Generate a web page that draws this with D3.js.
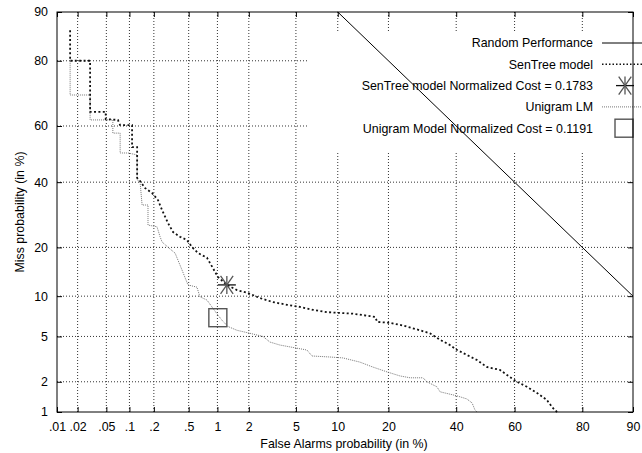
<!DOCTYPE html>
<html>
<head>
<meta charset="utf-8">
<script src="https://cdn.jsdelivr.net/npm/d3@7"></script>
<style>
	body { margin: 0; background: #fff; }
	text { font-family: "Liberation Sans", Arial, sans-serif; font-size: 12.4px; fill: #000; }
</style>
</head>
<body>
<script>
//tick values and labels (in %)
var faTicks = [0.01, 0.02, 0.05, 0.1, 0.2, 0.5, 1, 2, 5, 10, 20, 40, 60, 80, 90];
var faTickLabels = [".01", ".02", ".05", ".1", ".2", ".5", "1", "2", "5", "10", "20", "40", "60", "80", "90"];
var missTicks = [1, 2, 5, 10, 20, 40, 60, 80, 90];
var missTickLabels = ["1", "2", "5", "10", "20", "40", "60", "80", "90"];

//SenTree model DET curve (false alarm %, miss %)
var senTreeFa = [0.0156, 0.0156, 0.030, 0.030, 0.049, 0.049, 0.071, 0.076, 0.108, 0.108, 0.125, 0.125, 0.136, 0.156, 0.190, 0.224, 0.250, 0.293, 0.335, 0.400, 0.479, 0.543, 0.630, 0.782, 0.900, 1.01, 1.24, 1.55, 1.97, 2.52, 3.25, 4.25, 5.37, 6.73, 8.45, 10.3, 12.5, 15.8, 16.9, 17.4, 20.4, 23.7, 28.5, 31.5, 34.7, 37.9, 40.3, 43.6, 47.1, 50.5, 55.0, 58.4, 60.8, 64.1, 67.3, 70.3, 72.1, 73.3];
var senTreeMiss = [86.8, 80, 80, 64.8, 64.8, 62.4, 62.1, 60.3, 60.3, 52.5, 52.5, 41.5, 40.4, 38.0, 36.3, 33.9, 30.7, 26.7, 24.1, 22.8, 21.9, 20.1, 18.6, 17.5, 15.2, 13.4, 11.9, 11.0, 10.5, 9.7, 9.1, 8.7, 8.4, 8.0, 7.7, 7.6, 7.5, 7.2, 7.1, 6.5, 6.4, 6.1, 5.6, 5.3, 4.7, 4.25, 3.86, 3.5, 3.16, 2.74, 2.58, 2.22, 2.0, 1.79, 1.56, 1.33, 1.10, 1.0];

//Unigram LM DET curve
var unigramFa = [0.0156, 0.0156, 0.030, 0.030, 0.061, 0.061, 0.076, 0.076, 0.096, 0.125, 0.125, 0.136, 0.144, 0.170, 0.170, 0.218, 0.237, 0.250, 0.309, 0.353, 0.422, 0.491, 0.614, 0.660, 0.782, 0.880, 0.988, 1.11, 1.27, 1.55, 2.05, 2.67, 3.07, 3.72, 5.09, 6.06, 6.61, 8.86, 10.8, 13.8, 16.4, 19.7, 22.9, 25.7, 29.4, 30.6, 33.7, 34.7, 40.3, 43.6, 45.4, 46.4, 47.1];
var unigramMiss = [80, 70.3, 70.3, 62.1, 62.1, 57.5, 57.5, 50.4, 50.4, 49.7, 40.8, 40.1, 32.3, 32.3, 26.1, 25.6, 22.8, 21.4, 19.6, 18.6, 14.8, 11.9, 11.5, 9.9, 9.4, 8.4, 7.5, 6.7, 6.0, 5.6, 5.3, 5.0, 4.5, 4.25, 4.0, 3.86, 3.43, 3.36, 3.30, 3.03, 2.74, 2.47, 2.27, 2.18, 2.18, 2.0, 1.79, 1.60, 1.46, 1.36, 1.24, 1.05, 1.0];

//random performance line and minimum cost points
var randomFa = [10, 90];
var randomMiss = [90, 10];
var senTreeCost = [1.24, 11.9];
var unigramCost = [1.01, 7.0];

var legendLabels = ["Random Performance", "SenTree model", "SenTree model Normalized Cost = 0.1783", "Unigram LM", "Unigram Model Normalized Cost = 0.1191"];

window.onload = setChart();

//inverse of the standard normal cdf (Acklam approximation)
function probit(p){
	var a = [-3.969683028665376e+01, 2.209460984245205e+02, -2.759285104469687e+02, 1.383577518672690e+02, -3.066479806614716e+01, 2.506628277459239e+00];
	var b = [-5.447609879822406e+01, 1.615858368580409e+02, -1.556989798598866e+02, 6.680131188771972e+01, -1.328068155288572e+01];
	var c = [-7.784894002430293e-03, -3.223964580411365e-01, -2.400758277161838e+00, -2.549732539343734e+00, 4.374664141464968e+00, 2.938163982698783e+00];
	var d = [7.784695709041462e-03, 3.224671290700398e-01, 2.445134137142996e+00, 3.754408661907416e+00];
	var q, r;
	if (p < 0.02425){
		q = Math.sqrt(-2 * Math.log(p));
		return (((((c[0]*q+c[1])*q+c[2])*q+c[3])*q+c[4])*q+c[5]) / ((((d[0]*q+d[1])*q+d[2])*q+d[3])*q+1);
	}
	if (p <= 1 - 0.02425){
		q = p - 0.5; r = q*q;
		return (((((a[0]*r+a[1])*r+a[2])*r+a[3])*r+a[4])*r+a[5])*q / (((((b[0]*r+b[1])*r+b[2])*r+b[3])*r+b[4])*r+1);
	}
	q = Math.sqrt(-2 * Math.log(1 - p));
	return -(((((c[0]*q+c[1])*q+c[2])*q+c[3])*q+c[4])*q+c[5]) / ((((d[0]*q+d[1])*q+d[2])*q+d[3])*q+1);
};

function setChart(){
	var width = 642, height = 453;
	var left = 57, right = 633, top = 12, bottom = 412;

	var svg = d3.select("body")
		.append("svg")
		.attr("width", width)
		.attr("height", height);

	//normal deviate scales, values are given in %
	var xs = d3.scaleLinear()
		.domain([probit(faTicks[0] / 100), probit(faTicks[faTicks.length - 1] / 100)])
		.range([left, right]);
	var ys = d3.scaleLinear()
		.domain([probit(missTicks[0] / 100), probit(missTicks[missTicks.length - 1] / 100)])
		.range([bottom, top]);
	var x = function(v){ return xs(probit(v / 100)); };
	var y = function(v){ return ys(probit(v / 100)); };

	//grid
	svg.selectAll(".vgrid")
		.data(faTicks.slice(1, -1))
		.enter()
		.append("line")
		.attr("x1", x).attr("x2", x)
		.attr("y1", top).attr("y2", bottom)
		.attr("stroke", "#333")
		.attr("stroke-dasharray", "1,2");
	svg.selectAll(".hgrid")
		.data(missTicks.slice(1, -1))
		.enter()
		.append("line")
		.attr("y1", y).attr("y2", y)
		.attr("x1", left).attr("x2", right)
		.attr("stroke", "#333")
		.attr("stroke-dasharray", "1,2");

	//axes, ticks point inward
	var xAxis = d3.axisBottom(xs)
		.tickValues(faTicks.map(function(v){ return probit(v / 100); }))
		.tickFormat(function(d, i){ return faTickLabels[i]; })
		.tickSizeInner(-5).tickSizeOuter(0).tickPadding(10);
	var xAxisTop = d3.axisTop(xs)
		.tickValues(faTicks.map(function(v){ return probit(v / 100); }))
		.tickFormat("")
		.tickSizeInner(-5).tickSizeOuter(0);
	var yAxis = d3.axisLeft(ys)
		.tickValues(missTicks.map(function(v){ return probit(v / 100); }))
		.tickFormat(function(d, i){ return missTickLabels[i]; })
		.tickSizeInner(-5).tickSizeOuter(0).tickPadding(9);
	var yAxisRight = d3.axisRight(ys)
		.tickValues(missTicks.map(function(v){ return probit(v / 100); }))
		.tickFormat("")
		.tickSizeInner(-5).tickSizeOuter(0);

	[[xAxis, "translate(0," + bottom + ")"], [xAxisTop, "translate(0," + top + ")"],
	 [yAxis, "translate(" + left + ",0)"], [yAxisRight, "translate(" + right + ",0)"]].forEach(function(a){
		var g = svg.append("g").attr("transform", a[1]).call(a[0]);
		g.select(".domain").remove();
		g.selectAll("line").attr("stroke", "#000");
		g.selectAll("text").attr("font-family", null).attr("font-size", null).attr("fill", "#000");
	});

	//curves
	var line = d3.line()
		.x(function(d){ return x(d[0]); })
		.y(function(d){ return y(d[1]); });

	svg.append("path")
		.datum(d3.zip(unigramFa, unigramMiss))
		.attr("d", line)
		.attr("fill", "none")
		.attr("stroke", "#777")
		.attr("stroke-width", 1)
		.attr("stroke-dasharray", "1,1");

	svg.append("path")
		.datum(d3.zip(senTreeFa, senTreeMiss))
		.attr("d", line)
		.attr("fill", "none")
		.attr("stroke", "#111")
		.attr("stroke-width", 1.8)
		.attr("stroke-dasharray", "2,2.4");

	//legend box
	var legX = 593, legY = 43, legStep = 21.3;
	svg.append("rect")
		.attr("x", 307).attr("y", 33)
		.attr("width", right - 307).attr("height", 119)
		.attr("fill", "#fff");

	svg.selectAll(".legText")
		.data(legendLabels)
		.enter()
		.append("text")
		.attr("x", legX)
		.attr("y", function(d, i){ return legY + i * legStep; })
		.attr("dy", "0.35em")
		.attr("text-anchor", "end")
		.text(function(d){ return d; });

	//legend samples
	svg.append("line")
		.attr("x1", 602).attr("x2", 660)
		.attr("y1", legY).attr("y2", legY)
		.attr("stroke", "#000");
	svg.append("line")
		.attr("x1", 602).attr("x2", 660)
		.attr("y1", legY + legStep).attr("y2", legY + legStep)
		.attr("stroke", "#111").attr("stroke-width", 1.5)
		.attr("stroke-dasharray", "1.5,2");
	svg.append("line")
		.attr("x1", 602).attr("x2", 660)
		.attr("y1", legY + 3 * legStep).attr("y2", legY + 3 * legStep)
		.attr("stroke", "#777")
		.attr("stroke-dasharray", "1,1");

	drawStar(svg, 625, legY + 2 * legStep);
	drawSquare(svg, 624, legY + 4 * legStep);

	//cost points
	drawStar(svg, x(senTreeCost[0]), y(senTreeCost[1]));
	drawSquare(svg, x(unigramCost[0]), y(unigramCost[1]));

	//random performance
	svg.append("path")
		.datum(d3.zip(randomFa, randomMiss))
		.attr("d", line)
		.attr("fill", "none")
		.attr("stroke", "#000")
		.attr("stroke-width", 1);

	//frame
	svg.append("rect")
		.attr("x", left).attr("y", top)
		.attr("width", right - left).attr("height", bottom - top)
		.attr("fill", "none")
		.attr("stroke", "#000");

	//axis titles
	svg.append("text")
		.attr("x", 344).attr("y", 448)
		.attr("text-anchor", "middle")
		.text("False Alarms probability (in %)");
	svg.append("text")
		.attr("transform", "translate(24,212) rotate(-90)")
		.attr("text-anchor", "middle")
		.text("Miss probability (in %)");
};

function drawStar(svg, cx, cy){
	var r = 9;
	var g = svg.append("g").attr("stroke", "#555").attr("stroke-width", 1.3);
	g.append("line").attr("x1", cx - r).attr("x2", cx + r).attr("y1", cy).attr("y2", cy).attr("stroke", "#111");
	g.append("line").attr("x1", cx).attr("x2", cx).attr("y1", cy - r).attr("y2", cy + r);
	g.append("line").attr("x1", cx - r * 0.7).attr("x2", cx + r * 0.7).attr("y1", cy - r).attr("y2", cy + r);
	g.append("line").attr("x1", cx - r * 0.7).attr("x2", cx + r * 0.7).attr("y1", cy + r).attr("y2", cy - r);
};

function drawSquare(svg, cx, cy){
	svg.append("rect")
		.attr("x", cx - 9).attr("y", cy - 9)
		.attr("width", 18).attr("height", 18)
		.attr("fill", "none")
		.attr("stroke", "#555")
		.attr("stroke-width", 1.4);
};
</script>
</body>
</html>
